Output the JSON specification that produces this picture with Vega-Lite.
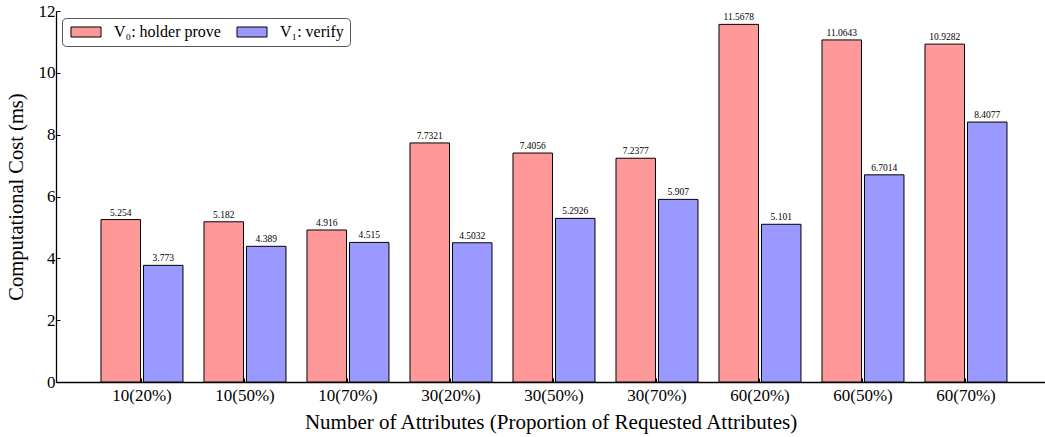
{
  "$schema": "https://vega.github.io/schema/vega-lite/v6.json",
  "width": 989,
  "height": 371,
  "autosize": {"type": "none"},
  "padding": {"left": 56, "top": 11, "right": 0, "bottom": 55},
  "background": "white",
  "config": {
    "view": {"stroke": null},
    "font": "Liberation Serif",
    "text": {"font": "Liberation Serif"},
    "legend": {"labelFont": "Liberation Serif"},
    "axis": {"grid": false, "domainColor": "black", "domainWidth": 1.3, "tickColor": "black", "labelColor": "black", "titleColor": "black", "titleFontWeight": "normal", "labelFont": "Liberation Serif", "titleFont": "Liberation Serif"}
  },
  "data": {
    "values": [
      {"group": "10(20%)", "series": "V₀: holder prove", "value": 5.254},
      {"group": "10(20%)", "series": "V₁: verify", "value": 3.773},
      {"group": "10(50%)", "series": "V₀: holder prove", "value": 5.182},
      {"group": "10(50%)", "series": "V₁: verify", "value": 4.389},
      {"group": "10(70%)", "series": "V₀: holder prove", "value": 4.916},
      {"group": "10(70%)", "series": "V₁: verify", "value": 4.515},
      {"group": "30(20%)", "series": "V₀: holder prove", "value": 7.7321},
      {"group": "30(20%)", "series": "V₁: verify", "value": 4.5032},
      {"group": "30(50%)", "series": "V₀: holder prove", "value": 7.4056},
      {"group": "30(50%)", "series": "V₁: verify", "value": 5.2926},
      {"group": "30(70%)", "series": "V₀: holder prove", "value": 7.2377},
      {"group": "30(70%)", "series": "V₁: verify", "value": 5.907},
      {"group": "60(20%)", "series": "V₀: holder prove", "value": 11.5678},
      {"group": "60(20%)", "series": "V₁: verify", "value": 5.101},
      {"group": "60(50%)", "series": "V₀: holder prove", "value": 11.0643},
      {"group": "60(50%)", "series": "V₁: verify", "value": 6.7014},
      {"group": "60(70%)", "series": "V₀: holder prove", "value": 10.9282},
      {"group": "60(70%)", "series": "V₁: verify", "value": 8.4077}
    ]
  },
  "encoding": {
    "x": {
      "field": "group",
      "type": "nominal",
      "sort": null,
      "scale": {"paddingInner": 0.204, "paddingOuter": 0.403, "align": 0.542},
      "axis": {
        "title": "Number of Attributes (Proportion of Requested Attributes)",
        "labelAngle": 0,
        "labelFontSize": 17,
        "labelPadding": 9,
        "tickSize": -4,
        "titleFontSize": 21,
        "titlePadding": 8
      }
    },
    "xOffset": {"field": "series", "type": "nominal", "sort": null, "scale": {"paddingInner": 0.07}},
    "y": {
      "field": "value",
      "type": "quantitative",
      "scale": {"domain": [0, 12], "nice": false},
      "axis": {
        "title": "Computational Cost (ms)",
        "values": [0, 2, 4, 6, 8, 10, 12],
        "labelFontSize": 17,
        "labelPadding": 5,
        "tickSize": -4,
        "titleFontSize": 20.5,
        "titlePadding": 12
      }
    }
  },
  "layer": [
    {
      "mark": {"type": "bar", "stroke": "black", "strokeWidth": 1},
      "encoding": {
        "color": {
          "field": "series",
          "type": "nominal",
          "sort": null,
          "scale": {"domain": ["V₀: holder prove", "V₁: verify"], "range": ["#ff9999", "#9999ff"]},
          "legend": {
            "title": null,
            "orient": "none",
            "legendX": 6,
            "legendY": 7,
            "direction": "horizontal",
            "columns": 2,
            "padding": 6,
            "strokeColor": "#555555",
            "fillColor": "white",
            "cornerRadius": 4,
            "symbolType": "M-1,-1H5V1H-1Z",
            "symbolSize": 100,
            "symbolStrokeColor": "black",
            "symbolStrokeWidth": 1,
            "symbolOpacity": 1,
            "labelOffset": 30,
            "labelFontSize": 16,
            "labelFont": "Liberation Serif",
            "labelColor": "black",
            "columnPadding": 13,
            "labelLimit": 300
          }
        }
      }
    },
    {
      "mark": {"type": "text", "baseline": "bottom", "dy": -2, "fontSize": 9.5, "color": "black", "font": "Liberation Serif"},
      "encoding": {
        "text": {"field": "value", "type": "quantitative", "format": ""}
      }
    }
  ]
}
